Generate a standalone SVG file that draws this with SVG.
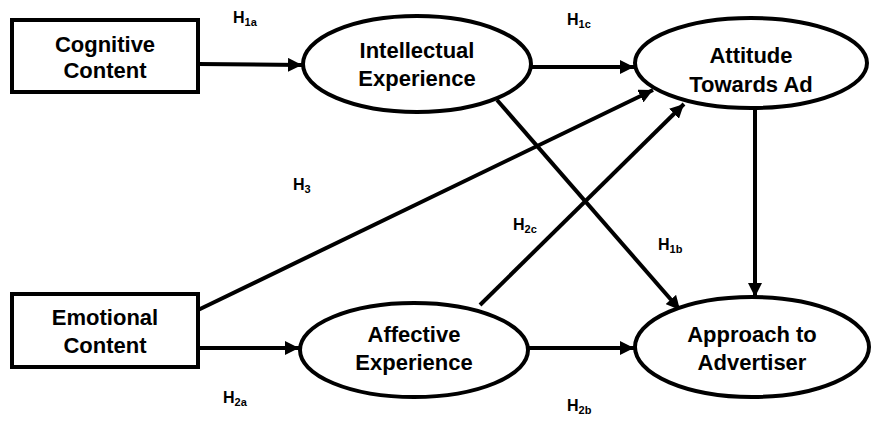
<svg xmlns="http://www.w3.org/2000/svg" width="872" height="421" viewBox="0 0 872 421">
<style>
.box{fill:#fff;stroke:#000;stroke-width:4}
.el{fill:#fff;stroke:#000;stroke-width:4}
.ln{stroke:#000;stroke-width:4;fill:none;marker-end:url(#ah)}
.t{font-family:"Liberation Sans",Arial,sans-serif;font-weight:bold;font-size:22px;text-anchor:middle;fill:#000}
.h{font-family:"Liberation Sans",Arial,sans-serif;font-weight:bold;font-size:16px;fill:#000}
.s{font-size:11px}
</style>
<defs>
<marker id="ah" markerUnits="userSpaceOnUse" markerWidth="16" markerHeight="14" refX="14" refY="7" orient="auto">
<path d="M0,0 L14,7 L0,14 Z" fill="#000"/>
</marker>
</defs>
<rect width="872" height="421" fill="#fff"/>
<g id="connectors">
<line class="ln" x1="198" y1="64" x2="302" y2="65"/>
<line class="ln" x1="531" y1="67" x2="634" y2="67"/>
<line class="ln" x1="497" y1="100" x2="680" y2="310"/>
<line class="ln" x1="198" y1="310" x2="653" y2="90"/>
<line class="ln" x1="480" y1="305" x2="684" y2="104"/>
<line class="ln" x1="755" y1="108" x2="755" y2="297"/>
<line class="ln" x1="198" y1="348" x2="299" y2="348"/>
<line class="ln" x1="528" y1="348" x2="634" y2="348"/>
</g>
<g id="cognitive">
<rect class="box" x="12" y="20" width="186" height="72"/>
<text class="t" x="105" y="52">Cognitive</text>
<text class="t" x="105" y="78">Content</text>
</g>
<g id="emotional">
<rect class="box" x="12" y="294" width="186" height="73"/>
<text class="t" x="105" y="325">Emotional</text>
<text class="t" x="105" y="353">Content</text>
</g>
<g id="intellectual">
<ellipse class="el" cx="417" cy="64" rx="114" ry="48"/>
<text class="t" x="417" y="58">Intellectual</text>
<text class="t" x="417" y="86">Experience</text>
</g>
<g id="affective">
<ellipse class="el" cx="414" cy="350" rx="114" ry="47"/>
<text class="t" x="414" y="342">Affective</text>
<text class="t" x="414" y="370">Experience</text>
</g>
<g id="attitude">
<ellipse class="el" cx="751" cy="63" rx="116" ry="45"/>
<text class="t" x="751" y="63">Attitude</text>
<text class="t" x="751" y="92">Towards Ad</text>
</g>
<g id="approach">
<ellipse class="el" cx="752" cy="347" rx="117" ry="50"/>
<text class="t" x="752" y="342">Approach to</text>
<text class="t" x="752" y="370">Advertiser</text>
</g>
<g id="labels">
<text class="h" x="233" y="23">H<tspan class="s" dy="3">1a</tspan></text>
<text class="h" x="567" y="25">H<tspan class="s" dy="3">1c</tspan></text>
<text class="h" x="293" y="190">H<tspan class="s" dy="3">3</tspan></text>
<text class="h" x="513" y="230">H<tspan class="s" dy="3">2c</tspan></text>
<text class="h" x="658" y="250">H<tspan class="s" dy="3">1b</tspan></text>
<text class="h" x="223" y="403">H<tspan class="s" dy="3">2a</tspan></text>
<text class="h" x="567" y="411">H<tspan class="s" dy="3">2b</tspan></text>
</g>
</svg>
